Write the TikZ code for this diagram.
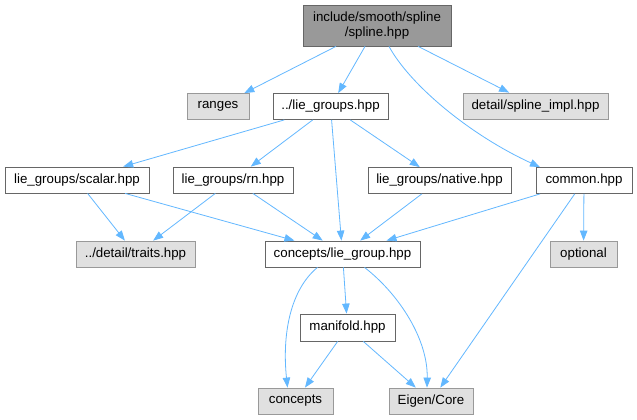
\documentclass[tikz,border=0pt]{standalone}
\usepackage{fontspec}
\setmainfont{Liberation Sans}
\usetikzlibrary{arrows.meta}
\definecolor{edgec}{HTML}{63B8FF}
\definecolor{grayfill}{HTML}{E0E0E0}
\definecolor{rootfill}{HTML}{999999}
\definecolor{bord}{HTML}{666666}
\definecolor{lbord}{HTML}{999999}
\begin{document}
\begin{tikzpicture}[x=1pt,y=-1pt,
  box/.style={draw=bord, fill=white, line width=0.8pt, inner sep=0pt, minimum height=26pt, font=\fontsize{13.3}{15.5}\selectfont},
  ext/.style={box, draw=lbord, fill=grayfill},
  rootbox/.style={box, fill=rootfill, align=center},
  edge/.style={draw=edgec, line width=0.8pt, -{Triangle[length=10pt,width=7.5pt]}}]
\useasboundingbox[fill=white] (0,0) rectangle (637,420);

\node[rootbox, minimum width=148pt, minimum height=41pt] (root) at (377,25.5) {include/smooth/spline\\/spline.hpp};
\node[ext, minimum width=62pt] (ranges) at (218,106.5) {ranges};
\node[box, minimum width=115pt] (lieg) at (330.5,106.5) {../lie\_groups.hpp};
\node[ext, minimum width=145pt] (impl) at (535.5,106) {detail/spline\_impl.hpp};
\node[box, minimum width=144pt] (scalar) at (77,180) {lie\_groups/scalar.hpp};
\node[box, minimum width=120pt] (rn) at (233,180) {lie\_groups/rn.hpp};
\node[box, minimum width=143pt] (native) at (439.5,180.5) {lie\_groups/native.hpp};
\node[box, minimum width=96pt] (common) at (584,180.5) {common.hpp};
\node[ext, minimum width=119pt] (traits) at (135.5,254) {../detail/traits.hpp};
\node[box, minimum width=155pt] (liegroup) at (342.5,254) {concepts/lie\_group.hpp};
\node[ext, minimum width=67pt] (optional) at (583.5,254) {optional};
\node[box, minimum width=95pt, minimum height=27pt] (manifold) at (347.5,327.5) {manifold.hpp};
\node[ext, minimum width=75pt] (concepts) at (295.5,401) {concepts};
\node[ext, minimum width=84pt] (eigen) at (431,401) {Eigen/Core};

\draw[edge] (root) -- (ranges);
\draw[edge] (root) -- (lieg);
\draw[edge] (root) -- (impl);
\draw[edge] ([xshift=12pt]root.south) .. controls (410,85) and (470,135) .. ([xshift=-44pt]common.north);
\draw[edge] (lieg) -- (scalar);
\draw[edge] (lieg) -- (rn);
\draw[edge] (lieg) -- (native);
\draw[edge] (lieg) -- (liegroup);
\draw[edge] (scalar) -- (traits);
\draw[edge] (scalar) -- (liegroup);
\draw[edge] (rn) -- (traits);
\draw[edge] (rn) -- (liegroup);
\draw[edge] (native) -- (liegroup);
\draw[edge] (common) -- (liegroup);
\draw[edge] (common) -- (optional);
\draw[edge] (common) -- (eigen);
\draw[edge] (liegroup) -- (manifold);
\draw[edge] ([xshift=-25pt]liegroup.south) .. controls (290,290) and (282,335) .. ([xshift=-8pt]concepts.north);
\draw[edge] ([xshift=22pt]liegroup.south) .. controls (400,295) and (428,340) .. ([xshift=-4pt]eigen.north);
\draw[edge] (manifold) -- (concepts);
\draw[edge] (manifold) -- (eigen);
\end{tikzpicture}
\end{document}
